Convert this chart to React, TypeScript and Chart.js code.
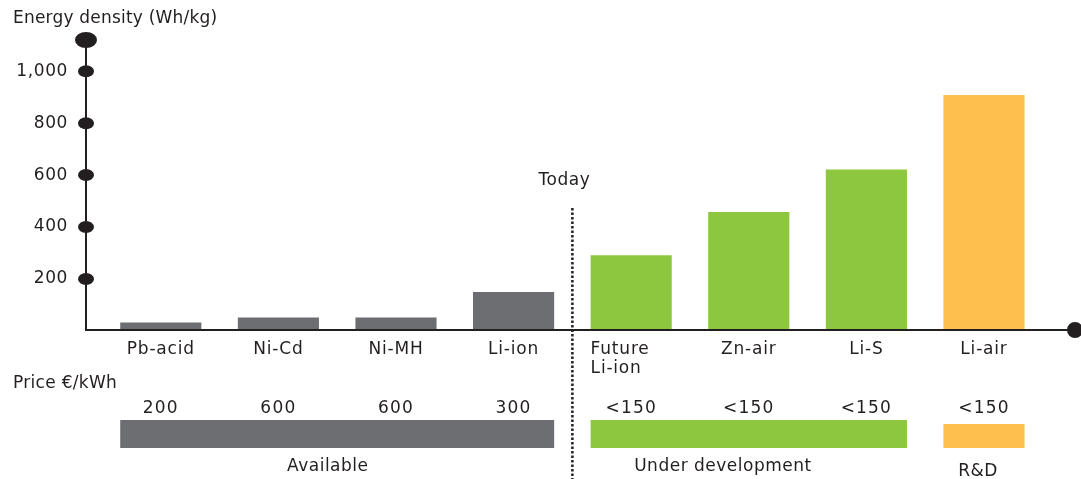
import React, { useEffect, useRef } from 'react';
import { Chart, registerables } from 'chart.js';

Chart.register(...registerables);

// ---- data ----
const categories = ['Pb-acid', 'Ni-Cd', 'Ni-MH', 'Li-ion', 'Future\nLi-ion', 'Zn-air', 'Li-S', 'Li-air'];
const energyDensity = [33, 52, 52, 150, 292, 458, 622, 908];
const prices = ['200', '600', '600', '300', '<150', '<150', '<150', '<150'];
const yTicks = [200, 400, 600, 800, 1000];
const groupNames = ['Available', 'Under development', 'R&D'];
const groupFirst = [0, 4, 7];
const groupLast = [3, 6, 7];
const groupOfCategory = [0, 0, 0, 0, 1, 1, 1, 2];
const todayLabel = 'Today';
const todayAt = 3.5;
const yTitle = 'Energy density (Wh/kg)';
const priceTitle = 'Price €/kWh';

// ---- styles ----
const INK = '#231f20';
const GROUP_COLORS = ['#6d6e71', '#8dc63f', '#fdc04e'];
const FONT_FAMILY = '"DejaVu Sans", Verdana, sans-serif';
const FONT_SIZE = 17;
const BAR_PCT = 0.69;
const GROUP_LABEL_AT = [1.42, 4.78, 6.95];
const BAND_TOP = [89, 89, 93];
const BAND_BOTTOM = 117;
const GROUP_LABEL_BASE = [140, 140, 145];

const decorPlugin = {
  id: 'decor',
  beforeDraw(chart: any) {
    (chart.ctx as any).letterSpacing = '0.6px';
  },
  afterDraw(chart: any) {
    const { ctx, chartArea, scales } = chart;
    const { left, top, right, bottom } = chartArea;
    const x = scales.x;
    const y = scales.y;
    const font = `${FONT_SIZE}px ${FONT_FAMILY}`;
    const step = x.getPixelForValue(1) - x.getPixelForValue(0);
    const half = (step * BAR_PCT) / 2;

    ctx.save();
    ctx.fillStyle = INK;
    ctx.strokeStyle = INK;

    // axes
    ctx.lineWidth = 2;
    ctx.beginPath();
    ctx.moveTo(left, top);
    ctx.lineTo(left, bottom);
    ctx.moveTo(left, bottom - 1);
    ctx.lineTo(right, bottom - 1);
    ctx.stroke();

    // dots
    const dot = (cx: number, cy: number, rx: number, ry: number) => {
      ctx.beginPath();
      ctx.ellipse(cx, cy, rx, ry, 0, 0, Math.PI * 2);
      ctx.fill();
    };
    dot(left, top, 11, 8);
    yTicks.forEach((v) => dot(left, y.getPixelForValue(v), 8, 6));
    dot(right, bottom - 1, 8, 8);

    // axis title
    ctx.font = font;
    (ctx as any).letterSpacing = '0.2px';
    ctx.textAlign = 'left';
    ctx.textBaseline = 'alphabetic';
    ctx.fillText(yTitle, 13, 23);
    (ctx as any).letterSpacing = '0.8px';

    // category labels
    categories.forEach((c, i) => {
      const cx = x.getPixelForValue(i);
      const lines = c.split('\n');
      if (lines.length > 1) {
        ctx.textAlign = 'left';
        lines.forEach((l, k) => ctx.fillText(l, cx - half, bottom + 23 + k * 19));
      } else {
        ctx.textAlign = 'center';
        ctx.fillText(c, cx, bottom + 23);
      }
    });

    // price title and values
    (ctx as any).letterSpacing = '0.3px';
    ctx.textAlign = 'left';
    ctx.fillText(priceTitle, 13, bottom + 57);
    (ctx as any).letterSpacing = '1.2px';
    ctx.textAlign = 'center';
    prices.forEach((p, i) => {
      ctx.fillText(p, x.getPixelForValue(i), bottom + 82);
    });

    // group bands + labels
    (ctx as any).letterSpacing = '0.5px';
    groupNames.forEach((g, k) => {
      const x0 = x.getPixelForValue(groupFirst[k]) - half;
      const x1 = x.getPixelForValue(groupLast[k]) + half;
      ctx.fillStyle = GROUP_COLORS[k];
      ctx.fillRect(x0, bottom + BAND_TOP[k], x1 - x0, BAND_BOTTOM - BAND_TOP[k]);
      ctx.fillStyle = INK;
      ctx.textAlign = 'center';
      ctx.fillText(g, x.getPixelForValue(GROUP_LABEL_AT[k]), bottom + GROUP_LABEL_BASE[k]);
    });

    // today divider
    const tx = x.getPixelForValue(todayAt);
    ctx.lineWidth = 2.5;
    ctx.setLineDash([2.5, 2]);
    ctx.beginPath();
    ctx.moveTo(tx, 208);
    ctx.lineTo(tx, chart.height);
    ctx.stroke();
    ctx.setLineDash([]);
    ctx.textAlign = 'center';
    ctx.fillText(todayLabel, tx - 8, 185);

    ctx.restore();
  },
};

export default function App() {
  const ref = useRef<HTMLCanvasElement | null>(null);

  useEffect(() => {
    if (!ref.current) return;
    const chart = new Chart(ref.current, {
      type: 'bar',
      data: {
        datasets: [
          {
            data: energyDensity.map((v, i) => ({ x: i, y: v })),
            backgroundColor: groupOfCategory.map((g) => GROUP_COLORS[g]),
            borderWidth: 0,
            barPercentage: BAR_PCT,
            categoryPercentage: 1,
          },
        ],
      },
      options: {
        animation: false,
        responsive: true,
        maintainAspectRatio: false,
        layout: { padding: { top: 40, right: 6, left: 0, bottom: 0 } },
        plugins: { legend: { display: false }, tooltip: { enabled: false } },
        scales: {
          x: {
            type: 'linear',
            offset: false,
            min: -0.636,
            max: 7.774,
            grid: { display: false },
            border: { display: false },
            ticks: { display: false },
            afterBuildTicks: (s: any) => {
              s.ticks = categories.map((_, i) => ({ value: i }));
            },
            afterFit: (s: any) => {
              s.height = 148;
            },
          },
          y: {
            min: 0,
            max: 1120,
            grid: { display: false, drawTicks: false },
            border: { display: false },
            afterBuildTicks: (s: any) => {
              s.ticks = yTicks.map((v) => ({ value: v }));
            },
            ticks: {
              color: INK,
              font: { family: FONT_FAMILY, size: FONT_SIZE },
              padding: 18,
            },
            afterFit: (s: any) => {
              s.width = 86;
            },
          },
        },
      } as any,
      plugins: [decorPlugin],
    });
    return () => chart.destroy();
  }, []);

  return (
    <div style={{ position: 'fixed', left: 0, top: 0, width: 1081, height: 479, background: '#fff' }}>
      <canvas ref={ref} style={{ display: 'block' }} />
    </div>
  );
}
